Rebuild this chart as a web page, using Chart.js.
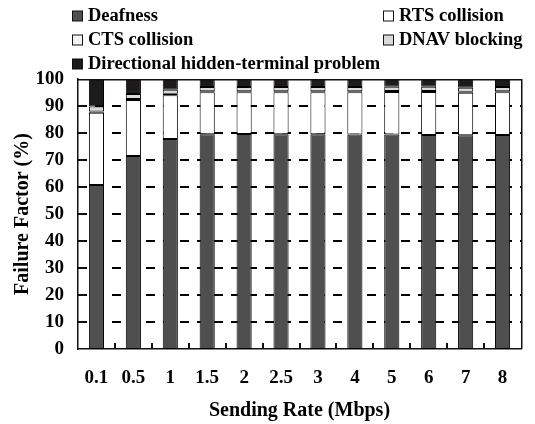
<!DOCTYPE html>
<html>
<head>
<meta charset="utf-8">
<script src="https://cdn.jsdelivr.net/npm/chart.js@4"></script>
<style>
    body { margin: 0; background: #fff; }
    canvas { display: block; }
</style>
</head>
<body>
<canvas id="barChart" width="535" height="424"></canvas>
<script>
(function () {

    var categories = ["0.1", "0.5", "1", "1.5", "2", "2.5", "3", "4", "5", "6", "7", "8"];

    var deafness    = [60.7, 71.5, 77.8, 79.5, 79.6, 79.5, 79.5, 79.4, 79.4, 79.3, 79.2, 79.3];
    var rtsCollision = [26.8, 20.7, 16.2, 15.6, 15.5, 15.6, 15.6, 15.7, 15.8, 15.9, 15.7, 15.8];
    var ctsCollision = [0.5, 0.4, 0.5, 0.4, 0.4, 0.4, 0.4, 0.4, 0.4, 0.4, 0.4, 0.4];
    var dnavBlocking = [1.8, 1.8, 1.5, 1.5, 1.5, 1.5, 1.5, 1.5, 1.5, 1.5, 1.5, 1.5];
    var directional  = [10.2, 5.6, 4.0, 3.0, 3.0, 3.0, 3.0, 3.0, 2.9, 2.9, 3.2, 3.0];

    var yTicks = [0, 10, 20, 30, 40, 50, 60, 70, 80, 90, 100];

    var serif = "'Liberation Serif', 'Times New Roman', serif";

    // legend slots: [x of box, y centre]
    var legendSlots = [[72, 15.5], [383, 15.5], [72, 39.5], [383, 39.5], [72, 63.5]];

    var legendPlugin = {
        id: "paperLegend",
        afterDraw: function (chart) {
            var ctx = chart.ctx;
            ctx.save();
            ctx.font = "bold 18.5px " + serif;
            ctx.textBaseline = "middle";
            chart.data.datasets.forEach(function (ds, i) {
                var s = legendSlots[i];
                ctx.fillStyle = ds.backgroundColor;
                ctx.fillRect(s[0] + 0.5, s[1] - 4.5, 10, 10);
                ctx.strokeStyle = "#111";
                ctx.lineWidth = 1;
                ctx.strokeRect(s[0] + 0.5, s[1] - 4.5, 10, 10);
                ctx.fillStyle = "#000";
                ctx.fillText(ds.label, s[0] + 16, s[1] + 1);
            });
            ctx.restore();
        }
    };

    // dashed guide lines every 10 %, painted underneath the bars
    var gridPlugin = {
        id: "dashGrid",
        afterDraw: function (chart) {
            var a = chart.chartArea;
            var ctx = chart.ctx;
            var y = chart.scales.y;
            ctx.save();
            ctx.globalCompositeOperation = "destination-over";
            ctx.fillStyle = "#000000";
            for (var k = 1; k < yTicks.length - 1; k++) {
                var py = Math.round(y.getPixelForValue(yTicks[k]));
                for (var px = a.left; px < a.right; px += 17) {
                    ctx.fillRect(px, py - 1, Math.min(9, a.right - px), 2);
                }
            }
            ctx.restore();
        }
    };

    // closed frame plus small inward ticks
    var framePlugin = {
        id: "frame",
        afterDraw: function (chart) {
            var a = chart.chartArea;
            var ctx = chart.ctx;
            var y = chart.scales.y;
            ctx.save();
            ctx.fillStyle = "#111";
            ctx.fillRect(Math.round(a.left), Math.round(a.top), Math.round(a.right - a.left), 1.5);
            ctx.fillRect(Math.round(a.right), Math.round(a.top), 1.5, Math.round(a.bottom - a.top));
            var step = (a.right - a.left) / categories.length;
            for (var i = 1; i < categories.length; i++) {
                ctx.fillRect(Math.round(a.left + i * step) - 1, Math.round(a.bottom) - 6, 2, 6);
            }
            for (var k = 1; k < yTicks.length - 1; k++) {
                ctx.fillRect(Math.round(a.left), Math.round(y.getPixelForValue(yTicks[k])) - 1, 7, 2);
            }
            ctx.restore();
        }
    };

    function makeSet(label, data, color) {
        return {
            label: label,
            data: data,
            backgroundColor: color,
            borderColor: "#000",
            borderWidth: 1,
            borderSkipped: false,
            barPercentage: 0.41,
            categoryPercentage: 1.0
        };
    }

    var chartData = {
        labels: categories,
        datasets: [
            makeSet("Deafness", deafness, "#4f4f4f"),
            makeSet("RTS collision", rtsCollision, "#ffffff"),
            makeSet("CTS collision", ctsCollision, "#f2f2f2"),
            makeSet("DNAV blocking", dnavBlocking, "#d9d9d9"),
            makeSet("Directional hidden-terminal problem", directional, "#1c1a1b")
        ]
    };

    var barChartOptions = {
        responsive: false,
        animation: false,
        layout: { padding: { top: 79, right: 14, left: 0, bottom: 0 } },
        plugins: {
            legend: { display: false },
            tooltip: { enabled: false }
        },
        scales: {
            x: {
                stacked: true,
                afterFit: function (scale) { scale.height = 75; },
                grid: { display: false, drawTicks: false },
                border: { display: true, color: "#111", width: 1.5 },
                ticks: {
                    color: "#000",
                    padding: 18,
                    font: { family: serif, size: 19, weight: "bold" }
                },
                title: {
                    display: true,
                    text: "Sending Rate (Mbps)",
                    color: "#000",
                    padding: { top: 0, bottom: 1 },
                    font: { family: serif, size: 20, weight: "bold" }
                }
            },
            y: {
                stacked: true,
                min: 0,
                max: 100,
                afterFit: function (scale) { scale.width = 78; },
                grid: { display: false, drawTicks: false },
                border: { display: true, color: "#111", width: 1.5 },
                ticks: {
                    color: "#000",
                    padding: 14,
                    stepSize: 10,
                    font: { family: serif, size: 19, weight: "bold" }
                },
                title: {
                    display: true,
                    text: "Failure Factor (%)",
                    color: "#000",
                    padding: { top: 11, bottom: 0 },
                    font: { family: serif, size: 20, weight: "bold" }
                }
            }
        }
    };

    var barChartCanvas = document.getElementById("barChart").getContext("2d");
    new Chart(barChartCanvas, {
        type: "bar",
        data: chartData,
        options: barChartOptions,
        plugins: [gridPlugin, legendPlugin, framePlugin]
    });

})();
</script>
</body>
</html>
